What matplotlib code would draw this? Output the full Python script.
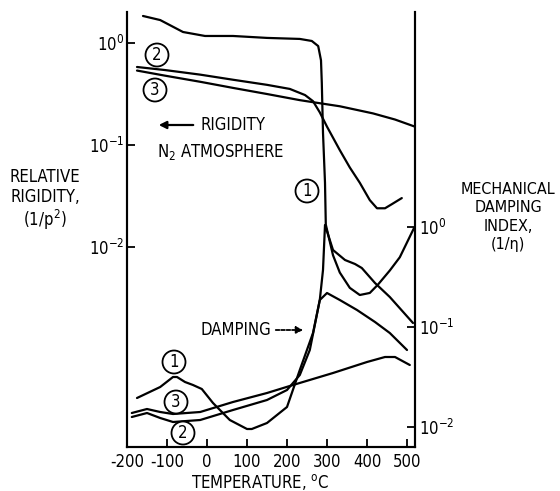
import numpy as np
import matplotlib
matplotlib.use("Agg")
import matplotlib.pyplot as plt
from matplotlib import font_manager

names = {f.name for f in font_manager.fontManager.ttflist}
FONT = "Liberation Sans Narrow" if "Liberation Sans Narrow" in names else "DejaVu Sans"
plt.rcParams["font.family"] = [FONT, "DejaVu Sans"]
plt.rcParams["font.stretch"] = "condensed"
plt.rcParams["mathtext.fontset"] = "custom"
plt.rcParams["mathtext.rm"] = FONT + ":stretch=condensed"
plt.rcParams["mathtext.it"] = FONT + ":stretch=condensed"
plt.rcParams["mathtext.bf"] = FONT + ":stretch=condensed"

# rigidity curves (temperature degC, log10 relative rigidity)
rig1_t = [-160, -117, -60, -5, 65, 150, 232, 262, 278, 285, 287, 290, 295, 297,
          315, 332, 357, 382, 407, 427, 457, 482, 518]
rig1_log = [0.265, 0.225, 0.108, 0.069, 0.069, 0.05, 0.04, 0.02, -0.03, -0.17, -0.39,
            -0.88, -1.37, -1.78, -2.08, -2.25, -2.40, -2.47, -2.45, -2.37, -2.23, -2.10, -1.81]
rig2_t = [-175, -105, -17, 65, 150, 207, 245, 265, 282, 300, 332, 357, 382, 407, 425,
          445, 462, 487]
rig2_log = [-0.235, -0.265, -0.31, -0.36, -0.41, -0.45, -0.51, -0.57, -0.68, -0.82, -1.05,
            -1.22, -1.37, -1.54, -1.62, -1.62, -1.58, -1.52]
rig3_t = [-175, -105, -17, 65, 150, 232, 265, 332, 415, 470, 520]
rig3_log = [-0.27, -0.32, -0.38, -0.44, -0.50, -0.56, -0.58, -0.62, -0.69, -0.75, -0.82]

# damping curves (temperature degC, log10 damping index)
dmp1_t = [-175, -117, -85, -75, -55, -35, -13, 15, 57, 100, 112, 150, 200, 232, 265,
          282, 290, 295, 315, 345, 370, 387, 420, 457, 515]
dmp1_log = [-1.71, -1.60, -1.50, -1.50, -1.55, -1.58, -1.62, -1.76, -1.93, -2.02, -2.02,
            -1.96, -1.80, -1.43, -1.06, -0.73, -0.43, 0.02, -0.23, -0.33, -0.37, -0.41,
            -0.56, -0.70, -0.96]
dmp2_t = [-188, -150, -117, -85, -17, 65, 150, 200, 232, 257, 272, 282, 300, 332, 375,
          420, 457, 500]
dmp2_log = [-1.90, -1.86, -1.91, -1.95, -1.93, -1.83, -1.73, -1.63, -1.48, -1.23, -0.93,
            -0.73, -0.66, -0.73, -0.83, -0.95, -1.06, -1.23]
dmp3_t = [-188, -150, -117, -85, -17, 65, 150, 215, 315, 400, 445, 470, 507]
dmp3_log = [-1.86, -1.82, -1.85, -1.87, -1.85, -1.75, -1.66, -1.58, -1.46, -1.35, -1.30,
            -1.30, -1.38]

xticks = [-200, -100, 0, 100, 200, 300, 400, 500]
rig_ticks = [1e0, 1e-1, 1e-2]
dmp_ticks = [1e0, 1e-1, 1e-2]

W, H = 560, 491
fig = plt.figure(figsize=(W / 100, H / 100), dpi=100)


def fx(px):
    return px / W


def fy(py):
    return 1 - py / H


ax = fig.add_axes([fx(127), fy(447), (415 - 127) / W, (447 - 12) / H])
ax2 = ax.twinx()

LW = 1.6
FS = 12
for t, v in [(rig1_t, rig1_log), (rig2_t, rig2_log), (rig3_t, rig3_log)]:
    ax.plot(t, np.power(10.0, v), color="black", lw=LW, solid_capstyle="round")
for t, v in [(dmp1_t, dmp1_log), (dmp2_t, dmp2_log), (dmp3_t, dmp3_log)]:
    ax2.plot(t, np.power(10.0, v), color="black", lw=LW, solid_capstyle="round")

ax.set_yscale("log")
ax2.set_yscale("log")
ax.set_xlim(-200, 520)
ax.set_ylim(10 ** -3.96, 10 ** 0.304)
ax2.set_ylim(10 ** -2.2, 10 ** 2.15)

ax.set_xticks(xticks)
ax.set_xticklabels([str(v) for v in xticks], fontsize=FS)
ax.set_yticks(rig_ticks)
ax.set_yticklabels(["10$^{0}$", "10$^{-1}$", "10$^{-2}$"], fontsize=FS)
ax.yaxis.set_minor_locator(matplotlib.ticker.NullLocator())
ax2.set_yticks(dmp_ticks)
ax2.set_yticklabels(["10$^{0}$", "10$^{-1}$", "10$^{-2}$"], fontsize=FS)
ax2.yaxis.set_minor_locator(matplotlib.ticker.NullLocator())

ax.tick_params(axis="x", direction="in", length=6, width=1.3, pad=4)
ax.tick_params(axis="y", direction="in", length=6, width=1.3, pad=2)
ax2.tick_params(axis="y", direction="in", length=6, width=1.3, pad=3)
for a in (ax, ax2):
    a.spines["top"].set_visible(False)
    for s in ("left", "right", "bottom"):
        a.spines[s].set_linewidth(1.5)
ax.patch.set_visible(False)

# axis titles
fig.text(fx(45), fy(200), "RELATIVE\nRIGIDITY,\n(1/p$^{2}$)", ha="center", va="center",
         fontsize=FS, linespacing=1.1)
fig.text(fx(508), fy(217), "MECHANICAL\nDAMPING\nINDEX,\n(1/\u03b7)", ha="center",
         va="center", fontsize=11.5, linespacing=1.3)
fig.text(fx(260), fy(482), "TEMPERATURE, $^{\\mathrm{o}}$C", ha="center", va="center",
         fontsize=FS)

# annotations
fig.text(fx(200), fy(125), "RIGIDITY", ha="left", va="center", fontsize=FS)
fig.text(fx(157), fy(152), "N$_{2}$ ATMOSPHERE", ha="left", va="center", fontsize=FS)
fig.text(fx(200), fy(330), "DAMPING", ha="left", va="center", fontsize=FS)
ax.annotate("", xy=(fx(156), fy(125)), xytext=(fx(196), fy(125)),
            xycoords="figure fraction", textcoords="figure fraction",
            arrowprops=dict(arrowstyle="-|>", color="black", lw=1.6, mutation_scale=11))
ax.annotate("", xy=(fx(306), fy(330)), xytext=(fx(273), fy(330)),
            xycoords="figure fraction", textcoords="figure fraction",
            arrowprops=dict(arrowstyle="-|>", color="black", lw=1.3, mutation_scale=10,
                            linestyle=(0, (2, 1))))

circles = [("2", 157, 55), ("3", 155, 90), ("1", 307, 191),
           ("1", 174, 362), ("3", 176, 402), ("2", 183, 433)]
for lab, px, py in circles:
    fig.text(fx(px), fy(py), lab, ha="center", va="center", fontsize=FS,
             bbox=dict(boxstyle="circle,pad=0.15", fc="white", ec="black", lw=1.3))

fig.savefig("out.png", dpi=100)
